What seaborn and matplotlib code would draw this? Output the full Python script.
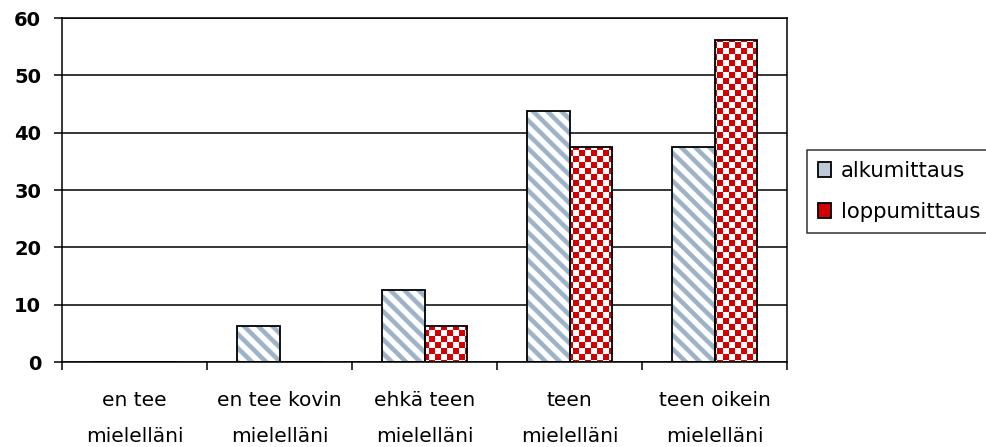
import numpy as np
import pandas as pd
import matplotlib
matplotlib.use("Agg")
import matplotlib.pyplot as plt
import seaborn as sns
from matplotlib.patches import Patch

# Data
categories = ["en tee\nmielelläni", "en tee kovin\nmielelläni", "ehkä teen\nmielelläni",
              "teen\nmielelläni", "teen oikein\nmielelläni"]
series_names = ["alkumittaus", "loppumittaus"]
alkumittaus = [0, 6.25, 12.5, 43.75, 37.5]
loppumittaus = [0, 0, 6.25, 37.5, 56.25]
y_ticks = [0, 10, 20, 30, 40, 50, 60]

df = pd.DataFrame({
    "kategoria": categories * 2,
    "mittaus": [series_names[0]] * len(categories) + [series_names[1]] * len(categories),
    "osuus": alkumittaus + loppumittaus,
})

sns.set_theme(style="white")
plt.rcParams["font.family"] = ["DejaVu Sans"]
plt.rcParams["text.color"] = "black"
plt.rcParams["xtick.color"] = "black"
plt.rcParams["ytick.color"] = "black"
plt.rcParams["xtick.labelcolor"] = "black"
plt.rcParams["ytick.labelcolor"] = "black"

W, H, DPI = 986, 447, 100
fig = plt.figure(figsize=(W / DPI, H / DPI), dpi=DPI)
L, R, T, B = 62, 787, 18, 362
ax = fig.add_axes([L / W, 1 - B / H, (R - L) / W, (B - T) / H])

sns.barplot(data=df, x="kategoria", y="osuus", hue="mittaus", hue_order=series_names,
            order=categories, palette=["white", "white"], width=0.58, gap=0,
            edgecolor="black", linewidth=1.3, legend=False, ax=ax)

xlim = (-0.5, len(categories) - 0.5)
ylim = (0, 60)

# Fill patterns, one pixel per screen pixel of the axes
ny, nx = B - T, R - L
yy, xx = np.mgrid[0:ny, 0:nx]
white = np.array([1.0, 1.0, 1.0])

blue = np.array([158, 178, 200]) / 255
period = 14
s = 0.5 + 0.5 * np.cos(2 * np.pi * ((xx - yy) % period) / period)
a = np.clip((s - 0.4) / 0.3, 0, 1)[..., None]
stripe_img = white * (1 - a) + blue * a

red = np.array([210, 0, 0]) / 255
cell = 6
chk = (((xx // cell) + (yy // cell)) % 2)[..., None]
checker_img = white * chk + red * (1 - chk)

extent = (xlim[0], xlim[1], ylim[0], ylim[1])
for p in list(ax.patches):
    if p.get_height() <= 0:
        continue
    cx = p.get_x() + p.get_width() / 2
    is_first = cx < round(cx)
    img = stripe_img if is_first else checker_img
    im = ax.imshow(img, extent=extent, origin="upper", aspect="auto",
                   interpolation="antialiased" if is_first else "nearest", zorder=2.5)
    im.set_clip_path(p)
    p.set_facecolor("none")
    p.set_zorder(3)

ax.set_xlim(*xlim)
ax.set_ylim(*ylim)

# Grid and frame
ax.set_axisbelow(True)
ax.yaxis.grid(True, color="black", linewidth=1.1)
ax.xaxis.grid(False)
for sp in ax.spines.values():
    sp.set_color("black")
    sp.set_linewidth(1.1)
    sp.set_visible(True)

ax.set_yticks(y_ticks)
ax.set_yticklabels([str(v) for v in y_ticks], fontsize=14, fontweight="bold")
ax.tick_params(axis="y", left=True, length=6, width=1.1, color="black", pad=9)

# Ticks at category boundaries, labels at category centres
ax.set_xticks(np.arange(-0.5, len(categories), 1.0))
ax.set_xticklabels([])
ax.tick_params(axis="x", which="major", bottom=True, length=6, width=1.1, color="black")
ax.set_xticks(np.arange(len(categories)), minor=True)
ax.set_xticklabels(categories, minor=True, fontsize=14.5, linespacing=2.1)
ax.tick_params(axis="x", which="minor", bottom=True, length=0, pad=21)
ax.set_xlabel("")
ax.set_ylabel("")

handles = [Patch(facecolor=(0.74, 0.79, 0.85), edgecolor="black", linewidth=1.3),
           Patch(facecolor=red, edgecolor="black", linewidth=1.3)]
leg = fig.legend(handles, series_names, loc="upper left",
                 bbox_to_anchor=(807 / W, 1 - 150 / H), frameon=True, fancybox=False,
                 fontsize=15.3, handlelength=0.65, handleheight=0.7, handletextpad=0.45,
                 labelspacing=1.0, borderpad=0.5, borderaxespad=0)
leg.get_frame().set_edgecolor("black")
leg.get_frame().set_linewidth(1.1)

fig.savefig("out.png", dpi=DPI)
